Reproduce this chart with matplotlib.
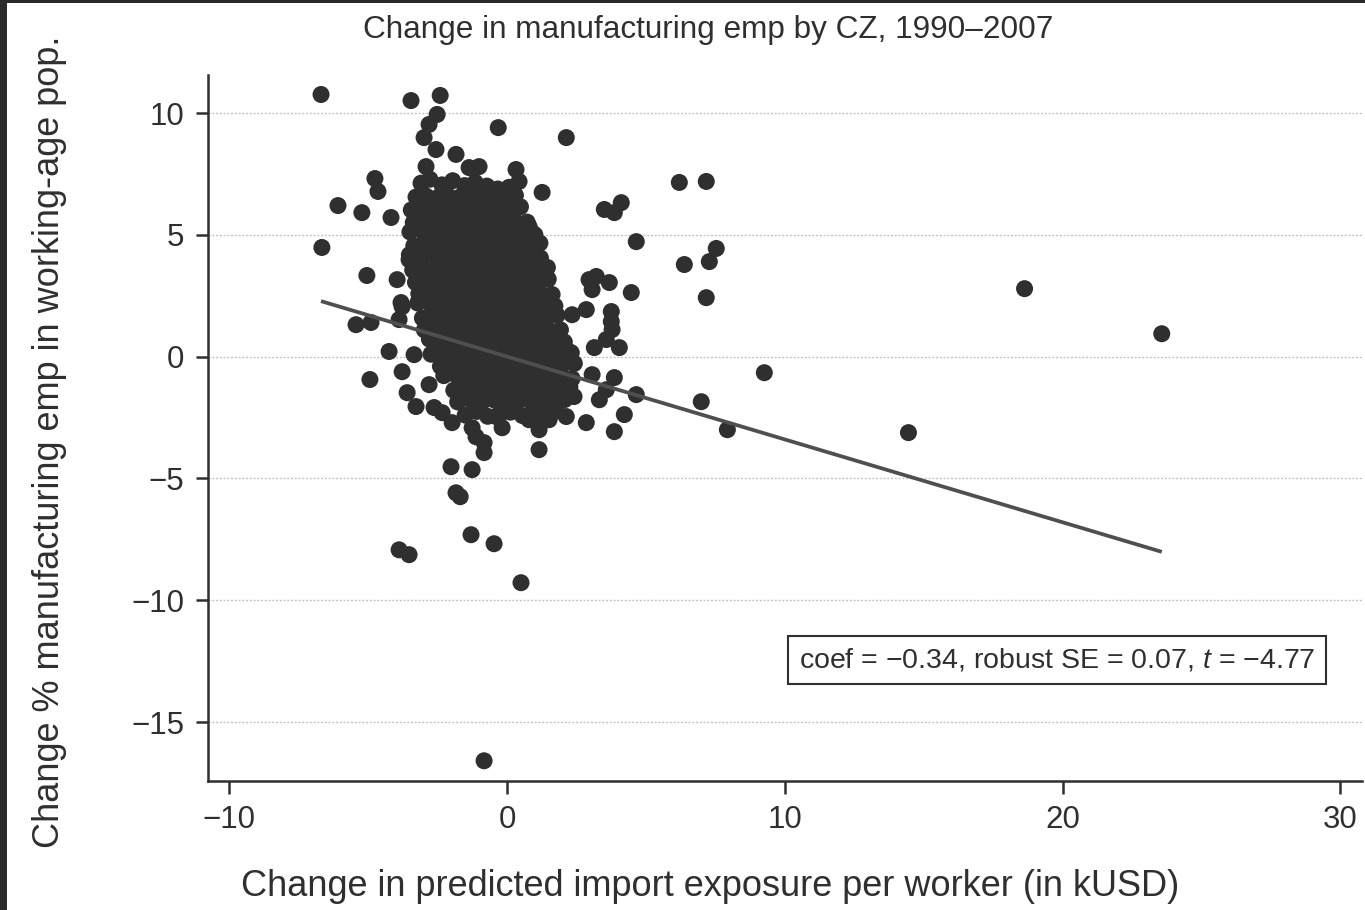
import matplotlib
matplotlib.use("Agg")
import matplotlib.pyplot as plt
import numpy as np
from matplotlib.patches import Rectangle

plt.rcParams["font.family"] = ["Liberation Sans", "DejaVu Sans"]
plt.rcParams["mathtext.fontset"] = "custom"
plt.rcParams["mathtext.rm"] = "Liberation Sans"
plt.rcParams["mathtext.it"] = "Liberation Sans:italic"

# ---------------------------------------------------------------------------
# Commuting zones: (change in import exposure, change in mfg emp share)
# ---------------------------------------------------------------------------
cz_core = [
    (-3.10, 7.12), (-2.78, 7.28), (-2.35, 7.05), (-1.96, 7.22), (-1.53, 7.02), (-1.15, 7.15), (-0.73, 7.00), (-0.34, 6.88), (0.07, 6.95),
    (-3.28, 6.55), (-2.93, 6.60), (-2.50, 6.53), (-2.12, 6.59), (-1.69, 6.56), (-1.31, 6.61), (-0.89, 6.54), (-0.50, 6.58), (-0.08, 6.55), (0.30, 6.62),
    (-3.45, 6.02), (-2.95, 6.10), (-2.54, 6.05), (-2.08, 6.11), (-1.67, 6.04), (-1.22, 6.09), (-0.81, 6.07), (-0.36, 6.03), (0.06, 6.10), (0.48, 6.15),
    (-3.38, 5.50), (-3.00, 5.61), (-2.61, 5.55), (-2.18, 5.60), (-1.79, 5.58), (-1.36, 5.62), (-0.97, 5.56), (-0.54, 5.59), (-0.15, 5.61), (0.28, 5.56), (0.72, 5.52),
    (-3.50, 5.12), (-3.02, 5.11), (-2.60, 5.06), (-2.21, 5.10), (-1.79, 5.07), (-1.40, 5.12), (-0.97, 5.08), (-0.59, 5.05), (-0.16, 5.11), (0.22, 5.07), (0.65, 5.10), (1.00, 5.00),
    (-3.36, 4.55), (-2.99, 4.62), (-2.60, 4.57), (-2.16, 4.61), (-1.77, 4.58), (-1.33, 4.63), (-0.94, 4.59), (-0.50, 4.56), (-0.11, 4.62), (0.33, 4.58), (0.72, 4.61), (1.18, 4.66),
    (-3.52, 4.18), (-3.01, 4.13), (-2.56, 4.08), (-2.16, 4.12), (-1.72, 4.09), (-1.32, 4.14), (-0.87, 4.10), (-0.47, 4.07), (-0.03, 4.12), (0.37, 4.09), (0.82, 4.13), (1.20, 4.05),
    (-3.40, 3.55), (-3.03, 3.63), (-2.61, 3.58), (-2.22, 3.62), (-1.80, 3.59), (-1.42, 3.64), (-1.00, 3.60), (-0.61, 3.57), (-0.19, 3.62), (0.21, 3.59), (0.59, 3.63), (1.02, 3.60), (1.45, 3.66),
    (-3.30, 3.05), (-2.94, 3.14), (-2.55, 3.09), (-2.13, 3.13), (-1.74, 3.10), (-1.32, 3.15), (-0.93, 3.11), (-0.51, 3.08), (-0.12, 3.13), (0.31, 3.10), (0.69, 3.14), (1.12, 3.11), (1.48, 3.18),
    (-3.18, 2.58), (-2.85, 2.65), (-2.43, 2.60), (-2.04, 2.64), (-1.62, 2.61), (-1.24, 2.66), (-0.82, 2.62), (-0.43, 2.59), (-0.01, 2.64), (0.37, 2.61), (0.79, 2.65), (1.18, 2.62), (1.62, 2.55),
    (-3.22, 2.20), (-2.76, 2.16), (-2.37, 2.11), (-1.95, 2.15), (-1.56, 2.12), (-1.14, 2.17), (-0.75, 2.13), (-0.33, 2.10), (0.06, 2.15), (0.48, 2.12), (0.87, 2.16), (1.29, 2.13), (1.72, 2.08),
    (-3.05, 1.58), (-2.68, 1.66), (-2.29, 1.61), (-1.87, 1.65), (-1.44, 1.62), (-1.05, 1.67), (-0.62, 1.63), (-0.23, 1.60), (0.21, 1.65), (0.60, 1.62), (1.03, 1.66), (1.42, 1.63), (1.80, 1.70),
    (-2.98, 1.10), (-2.56, 1.17), (-2.14, 1.12), (-1.75, 1.16), (-1.33, 1.13), (-0.95, 1.18), (-0.53, 1.14), (-0.14, 1.11), (0.28, 1.16), (0.66, 1.13), (1.08, 1.17), (1.46, 1.14), (1.92, 1.10),
    (-2.80, 0.72), (-2.46, 0.68), (-2.07, 0.63), (-1.65, 0.67), (-1.26, 0.64), (-0.83, 0.69), (-0.44, 0.65), (-0.01, 0.62), (0.38, 0.67), (0.80, 0.64), (1.19, 0.68), (1.62, 0.65), (2.06, 0.60),
    (-2.74, 0.10), (-2.28, 0.18), (-1.89, 0.13), (-1.46, 0.17), (-1.07, 0.14), (-0.63, 0.19), (-0.24, 0.15), (0.19, 0.12), (0.58, 0.17), (1.01, 0.14), (1.40, 0.18), (1.83, 0.15), (2.20, 0.22),
    (-2.40, -0.40), (-2.04, -0.31), (-1.66, -0.36), (-1.23, -0.32), (-0.85, -0.35), (-0.43, -0.30), (-0.05, -0.34), (0.38, -0.37), (0.76, -0.32), (1.18, -0.35), (1.56, -0.31), (1.99, -0.34), (2.42, -0.28),
    (-2.28, -0.78), (-1.80, -0.80), (-1.40, -0.85), (-0.96, -0.81), (-0.56, -0.84), (-0.12, -0.79), (0.27, -0.83), (0.71, -0.86), (1.11, -0.81), (1.55, -0.84), (1.95, -0.80), (2.34, -0.90),
    (-1.92, -1.38), (-1.54, -1.29), (-1.13, -1.34), (-0.68, -1.30), (-0.27, -1.33), (0.18, -1.28), (0.59, -1.32), (1.04, -1.35), (1.44, -1.30), (1.89, -1.33), (2.26, -1.25),
    (-1.78, -1.86), (-1.29, -1.79), (-0.88, -1.84), (-0.43, -1.80), (-0.02, -1.83), (0.43, -1.78), (0.84, -1.82), (1.29, -1.85), (1.69, -1.80), (2.08, -1.76),
    (-1.51, -2.40), (-1.09, -2.25), (-0.70, -2.45), (-0.27, -2.36), (0.12, -2.28), (0.55, -2.42), (0.94, -2.26), (1.37, -2.40), (1.77, -2.24),
]

cz_fringe = [
    # upper edge of the cloud
    (-2.56, 8.50), (-1.84, 8.30), (-2.92, 7.80), (-1.37, 7.76), (-1.01, 7.80),
    (-2.52, 9.94), (-2.81, 9.53), (-2.99, 8.99), (-2.41, 10.72), (-3.46, 10.51),
    (-0.32, 9.40), (2.13, 8.99), (0.32, 7.68), (0.43, 7.19), (1.26, 6.74),
    (0.79, 5.34), (0.90, 5.09), (0.61, 4.68),
    # right edge
    (2.95, 3.16), (3.06, 2.75), (2.85, 1.93), (2.34, 1.72), (3.21, 3.29), (3.68, 3.04),
    (4.47, 2.63), (3.75, 1.85), (3.75, 1.44), (3.78, 1.11), (3.57, 0.70), (3.14, 0.37),
    (4.04, 0.37), (2.31, 0.16), (3.06, -0.74), (3.86, -0.86), (3.57, -1.36), (4.65, -1.56),
    (2.41, -1.64), (3.32, -1.77), (2.13, -2.46), (2.85, -2.71), (4.22, -2.38), (3.86, -3.08),
    (1.05, -2.51), (1.51, -2.59), (1.15, -3.82), (1.15, -3.00), (0.79, -2.59),
    (3.50, 6.04), (3.86, 5.91), (4.11, 6.32), (4.65, 4.72),
    # left and lower edge
    (-6.67, 4.48), (-6.09, 6.20), (-4.76, 7.31), (-4.65, 6.78), (-5.23, 5.91), (-4.18, 5.71),
    (-5.05, 3.33), (-3.96, 3.16), (-3.53, 3.98), (-3.82, 2.22), (-5.44, 1.31), (-4.90, 1.40),
    (-3.89, 1.52), (-3.78, 2.05), (-4.25, 0.21), (-4.94, -0.94), (-3.78, -0.62), (-3.35, 0.08),
    (-3.60, -1.48), (-3.28, -2.05), (-2.81, -1.15), (-2.63, -2.09), (-2.34, -2.30), (-1.98, -2.71),
    (-1.26, -2.92), (-1.12, -3.29), (-0.83, -3.53), (-0.83, -3.94), (-0.18, -2.92), (-0.40, -2.46),
    (-2.02, -4.52), (-1.26, -4.64), (-1.84, -5.59), (-1.69, -5.75),
]

cz_outliers = [
    (-6.70, 10.76), (6.20, 7.15), (7.17, 7.19), (6.38, 3.78), (7.28, 3.90), (7.53, 4.44),
    (7.17, 2.42), (9.26, -0.66), (6.99, -1.85), (7.93, -3.00), (14.45, -3.12),
    (18.63, 2.79), (23.57, 0.94),
    (-1.30, -7.31), (-0.47, -7.68), (-3.89, -7.93), (-3.53, -8.13), (0.50, -9.28),
    (-0.83, -16.59),
]

# OLS fit reported in the annotation
fit_coef = -0.34
fit_intercept = 0.0
fit_se = 0.07
fit_t = -4.77

x_ticks = [-10, 0, 10, 20, 30]
y_ticks = [-15, -10, -5, 0, 5, 10]

title_text = "Change in manufacturing emp by CZ, 1990\u20132007"
x_label = "Change in predicted import exposure per worker (in kUSD)"
y_label = "Change % manufacturing emp in working-age pop."

INK = "#2f2f2f"
W, H = 1365, 910

pts = np.array(cz_core + cz_fringe + cz_outliers)
xv, yv = pts[:, 0], pts[:, 1]

fig = plt.figure(figsize=(W / 100, H / 100), dpi=100)
fig.patch.set_facecolor("white")

ax = fig.add_axes([208 / W, 1 - 781 / H, (1362 - 208) / W, (781 - 75) / H])
ax.set_xlim(-10.77, 30.78)
ax.set_ylim(-17.42, 11.56)

for yt in y_ticks:
    ax.axhline(yt, color="#c4c4c4", lw=1.0, ls=(0, (1.5, 1.2)), zorder=0)

ax.scatter(xv, yv, s=150, c=INK, edgecolors="none", zorder=2)

fx = np.array([xv.min(), xv.max()])
ax.plot(fx, fit_intercept + fit_coef * fx, color="#4f4f4f", lw=2.7, zorder=3,
        solid_capstyle="butt")

for side in ("top", "right"):
    ax.spines[side].set_visible(False)
for side in ("left", "bottom"):
    ax.spines[side].set_color(INK)
    ax.spines[side].set_linewidth(1.8)

ax.set_xticks(x_ticks)
ax.set_yticks(y_ticks)
ax.tick_params(direction="out", length=9, width=1.8, color=INK,
               labelsize=22.5, labelcolor=INK, pad=8)

def fmt(v):
    return f"{v:.2f}".replace("-", "\u2212")

stat_text = f"coef = {fmt(fit_coef)}, robust SE = {fmt(fit_se)}, $t$ = {fmt(fit_t)}"
ax.text((1057 - 208) / 1154, (781 - 660) / 706, stat_text, transform=ax.transAxes,
        ha="center", va="center", fontsize=20.5, color=INK, zorder=5,
        bbox=dict(boxstyle="square,pad=0.38", fc="white", ec=INK, lw=1.5))

fig.text(708 / W, 1 - 30 / H, title_text, ha="center", va="center",
         fontsize=22.7, color=INK)
fig.text(710 / W, 1 - 887 / H, x_label, ha="center", va="center",
         fontsize=26, color=INK)
fig.text(50 / W, 1 - 442 / H, y_label, ha="center", va="center",
         rotation=90, fontsize=26, color=INK)

# dark frame along the top and left edges
fig.patches.append(Rectangle((0, 1 - 3 / H), 1, 3 / H, transform=fig.transFigure,
                             facecolor="#2b2b2b", edgecolor="none", zorder=10))
fig.patches.append(Rectangle((0, 0), 7 / W, 1, transform=fig.transFigure,
                             facecolor="#2b2b2b", edgecolor="none", zorder=10))

fig.savefig("out.png", dpi=100)
